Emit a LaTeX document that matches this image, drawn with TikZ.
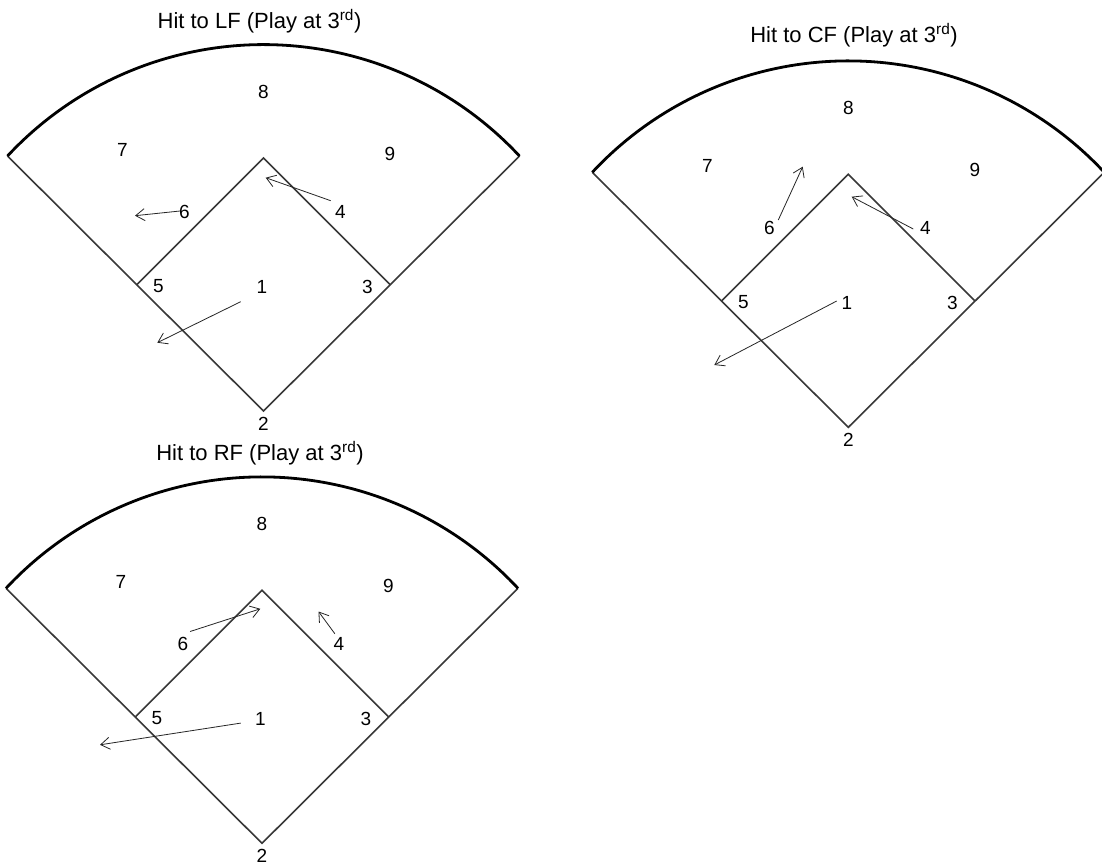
\documentclass[tikz,border=0pt]{standalone}
\usepackage{fontspec}
\setmainfont{Liberation Sans}
\usetikzlibrary{arrows.meta}
\tikzset{
  foul/.style={draw=black!78, line width=1.6pt, line join=miter},
  fence/.style={draw=black, line width=2.8pt},
  fielder/.style={font=\fontsize{19}{21}\selectfont, inner sep=0pt},
  ttl/.style={font=\fontsize{22}{24}\selectfont, inner sep=0pt, anchor=base},
  run/.style={draw=black!85, line width=0.8pt,
    -{Straight Barb[length=9pt,width=12pt,line width=0.8pt]}},
}
\newcommand\ballfield[1]{%
  \coordinate (#1H) at (0,0);
  \coordinate (#1B2) at (0,-253);
  \coordinate (#1B3) at (-126.5,-126.5);
  \coordinate (#1B1) at (126.5,-126.5);
  \coordinate (#1L) at (-256,-255);
  \coordinate (#1R) at (256,-255);
  \draw[foul] (#1L) -- (#1H) -- (#1R);
  \draw[foul] (#1B3) -- (#1B2) -- (#1B1);
  \draw[fence] (#1L) arc[start angle=-137.04, end angle=-42.96, radius=349.8];
  \node[fielder] (#1p8) at (0,-319) {8};
  \node[fielder] (#1p7) at (-141,-261) {7};
  \node[fielder] (#1p9) at (126.5,-257) {9};
  \node[fielder] (#1p6) at (-79,-199) {6};
  \node[fielder] (#1p4) at (77,-199) {4};
  \node[fielder] (#1p5) at (-105,-125) {5};
  \node[fielder] (#1p1) at (-1.5,-124.5) {1};
  \node[fielder] (#1p3) at (104,-124) {3};
  \node[fielder] (#1p2) at (0,13) {2};
}
\begin{document}
\begin{tikzpicture}[x=1pt,y=-1pt]
\fill[white] (0,0) rectangle (1102,865);
\useasboundingbox (0,0) rectangle (1102,865);

% ---------- Hit to LF ----------
\node[ttl] (t1) at (259.5,28) {Hit to LF (Play at 3\textsuperscript{rd})};
\begin{scope}[shift={(263.5,411)}]
  \ballfield{a}
  \coordinate (a6s) at (-83.5,-200);   \coordinate (a6e) at (-128.5,-195.3);
  \coordinate (a4s) at (67.2,-210.3);  \coordinate (a4e) at (2.2,-233.3);
  \coordinate (a1s) at (-22.8,-109.3); \coordinate (a1e) at (-106.2,-68.3);
  \draw[run] (a6s) -- (a6e);
  \draw[run] (a4s) -- (a4e);
  \draw[run] (a1s) -- (a1e);
\end{scope}

% ---------- Hit to CF ----------
\node[ttl] (t2) at (854,42.5) {Hit to CF (Play at 3\textsuperscript{rd})};
\begin{scope}[shift={(848.3,427.3)}]
  \ballfield{b}
  \coordinate (b6s) at (-70,-207.3);   \coordinate (b6e) at (-45.6,-260.6);
  \coordinate (b4s) at (65,-198.3);    \coordinate (b4e) at (3.4,-230.6);
  \coordinate (b1s) at (-11.6,-126.3); \coordinate (b1e) at (-134,-62.3);
  \draw[run] (b6s) -- (b6e);
  \draw[run] (b4s) -- (b4e);
  \draw[run] (b1s) -- (b1e);
\end{scope}

% ---------- Hit to RF ----------
\node[ttl] (t3) at (260,460.5) {Hit to RF (Play at 3\textsuperscript{rd})};
\begin{scope}[shift={(262,843.3)}]
  \ballfield{c}
  \coordinate (c6s) at (-71.9,-211.8); \coordinate (c6e) at (-1.7,-234.5);
  \coordinate (c4s) at (72.9,-209.5);  \coordinate (c4e) at (56.5,-231.8);
  \coordinate (c1s) at (-21.3,-120.2); \coordinate (c1e) at (-162,-98.5);
  \draw[run] (c6s) -- (c6e);
  \draw[run] (c4s) -- (c4e);
  \draw[run] (c1s) -- (c1e);
\end{scope}
\end{tikzpicture}
\end{document}
